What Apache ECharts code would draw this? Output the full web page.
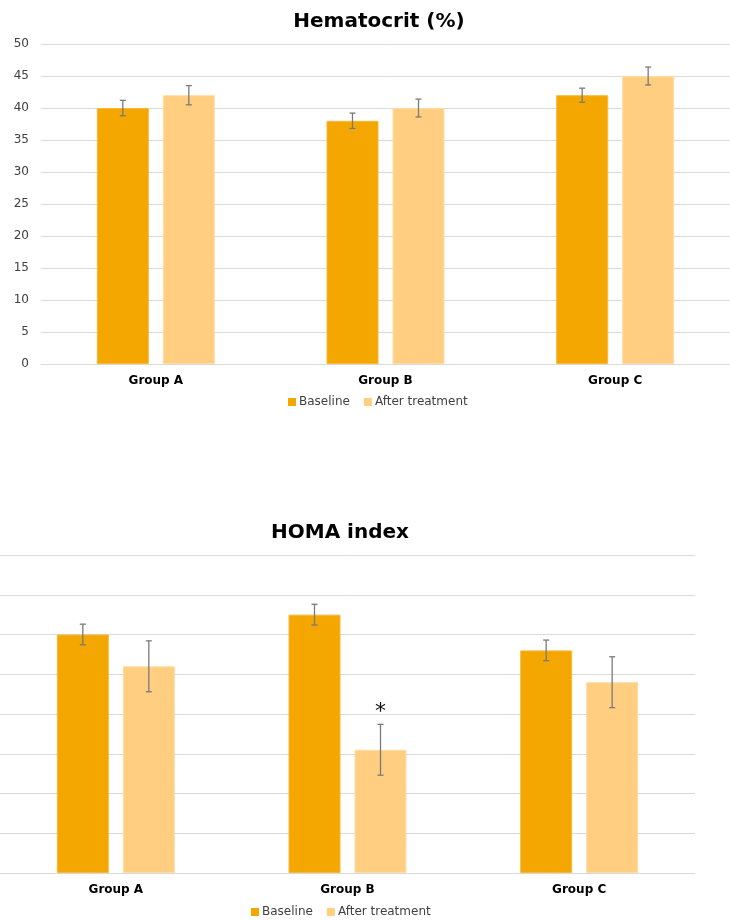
<!DOCTYPE html>
<html>
<head>
<meta charset="utf-8">
<script src="https://cdn.jsdelivr.net/npm/echarts@6/dist/echarts.min.js"></script>
<style>
  html, body { margin: 0; padding: 0; background: #fff; }
  #chart { width: 730px; height: 920px; }
</style>
</head>
<body>
<div id="chart"></div>
<script>
// Groups shared by both panels
const groups = ['Group A', 'Group B', 'Group C'];
const seriesNames = ['Baseline', 'After treatment'];

// Hematocrit (%) — means and error half-widths
const hctBaseline = [40, 38, 42];
const hctAfter = [42, 40, 45];
const hctBaselineErr = [1.2, 1.2, 1.1];
const hctAfterErr = [1.5, 1.4, 1.4];
const hctTicks = [0, 5, 10, 15, 20, 25, 30, 35, 40, 45, 50];

// HOMA index — means and error half-widths
const homaBaseline = [3.0, 3.25, 2.8];
const homaAfter = [2.6, 1.55, 2.4];
const homaBaselineErr = [0.13, 0.13, 0.13];
const homaAfterErr = [0.32, 0.32, 0.32];
// significance marks over the after-treatment bars
const homaAfterSig = ['', '*', ''];

const FONT = 'DejaVu Sans';
const COL_BASE = '#F4A700';
const COL_AFTER = '#FFCE80';
const BAR_W = 52;
const BAR_GAP = 14;
const OFFSET = (BAR_W + BAR_GAP) / 2;

function errorSeries(gridIdx, values, errs, side, marks) {
  return {
    type: 'custom',
    xAxisIndex: gridIdx,
    yAxisIndex: gridIdx,
    silent: true,
    z: 5,
    data: values.map((v, i) => [i, v, errs[i], marks ? marks[i] : '']),
    renderItem: function (params, api) {
      const cat = api.value(0);
      const v = api.value(1);
      const e = api.value(2);
      const top = api.coord([cat, v + e]);
      const bot = api.coord([cat, v - e]);
      const x = top[0] + side * OFFSET;
      const cap = 3;
      const style = { stroke: '#7a7a7a', lineWidth: 1.3 };
      const children = [
        { type: 'line', shape: { x1: x, y1: top[1], x2: x, y2: bot[1] }, style },
        { type: 'line', shape: { x1: x - cap, y1: top[1], x2: x + cap, y2: top[1] }, style },
        { type: 'line', shape: { x1: x - cap, y1: bot[1], x2: x + cap, y2: bot[1] }, style }
      ];
      const mark = api.value(3);
      if (mark) {
        children.push({
          type: 'text',
          style: {
            text: mark, x: x, y: top[1] - 12,
            textAlign: 'center', textVerticalAlign: 'middle',
            font: 'normal 22px ' + FONT, fill: '#111'
          }
        });
      }
      return { type: 'group', children };
    }
  };
}

function barSeries(gridIdx, name, values, color, border) {
  return {
    type: 'bar',
    name: name,
    xAxisIndex: gridIdx,
    yAxisIndex: gridIdx,
    data: values,
    barWidth: BAR_W,
    barGap: (BAR_GAP / BAR_W * 100).toFixed(1) + '%',
    itemStyle: { color: color, borderColor: border, borderWidth: 1 },
    emphasis: { disabled: true }
  };
}

const catAxis = (gridIdx) => ({
  type: 'category',
  gridIndex: gridIdx,
  data: groups,
  axisTick: { show: false },
  axisLine: { lineStyle: { color: '#d9d9d9', width: 1 } },
  axisLabel: { fontFamily: FONT, fontSize: 12, fontWeight: 'bold', color: '#000', margin: 11 }
});

const legendBase = {
  data: seriesNames, itemWidth: 8, itemHeight: 8, itemGap: 14, padding: 0,
  icon: 'rect', itemStyle: { borderWidth: 0 },
  textStyle: { fontFamily: FONT, fontSize: 12, color: '#404040', padding: [0, 0, 0, -2] }
};

const chart = echarts.init(document.getElementById('chart'), null, { renderer: 'canvas' });
chart.setOption({
  animation: false,
  backgroundColor: '#fff',
  title: [
    {
      text: 'Hematocrit (%)', left: 374, top: 7, textAlign: 'center',
      textStyle: { fontFamily: FONT, fontSize: 20, fontWeight: 'bold', color: '#000' }
    },
    {
      text: 'HOMA index', left: 335, top: 518, textAlign: 'center',
      textStyle: { fontFamily: FONT, fontSize: 20, fontWeight: 'bold', color: '#000' }
    }
  ],
  legend: [
    Object.assign({}, legendBase, { left: 288, top: 396 }),
    Object.assign({}, legendBase, { left: 251, top: 906 })
  ],
  grid: [
    { left: 41, top: 44, width: 695, height: 320 },
    { left: 0, top: 555, width: 695, height: 318 }
  ],
  xAxis: [catAxis(0), catAxis(1)],
  yAxis: [
    {
      type: 'value', gridIndex: 0, min: hctTicks[0], max: hctTicks[hctTicks.length - 1],
      interval: hctTicks[1] - hctTicks[0],
      axisLine: { show: false }, axisTick: { show: false },
      splitLine: { lineStyle: { color: '#d9d9d9', width: 1 } },
      axisLabel: { fontFamily: FONT, fontSize: 12, color: '#404040', margin: 12 }
    },
    {
      type: 'value', gridIndex: 1, min: 0, max: 4, interval: 0.5,
      axisLine: { show: false }, axisTick: { show: false },
      splitLine: { lineStyle: { color: '#d9d9d9', width: 1 } },
      axisLabel: { show: false }
    }
  ],
  series: [
    barSeries(0, 'Baseline', hctBaseline, COL_BASE, '#F7B838'),
    barSeries(0, 'After treatment', hctAfter, COL_AFTER, '#FFDCA6'),
    errorSeries(0, hctBaseline, hctBaselineErr, -1),
    errorSeries(0, hctAfter, hctAfterErr, 1),
    barSeries(1, 'Baseline', homaBaseline, COL_BASE, '#F7B838'),
    barSeries(1, 'After treatment', homaAfter, COL_AFTER, '#FFDCA6'),
    errorSeries(1, homaBaseline, homaBaselineErr, -1),
    errorSeries(1, homaAfter, homaAfterErr, 1, homaAfterSig)
  ]
});
</script>
</body>
</html>
